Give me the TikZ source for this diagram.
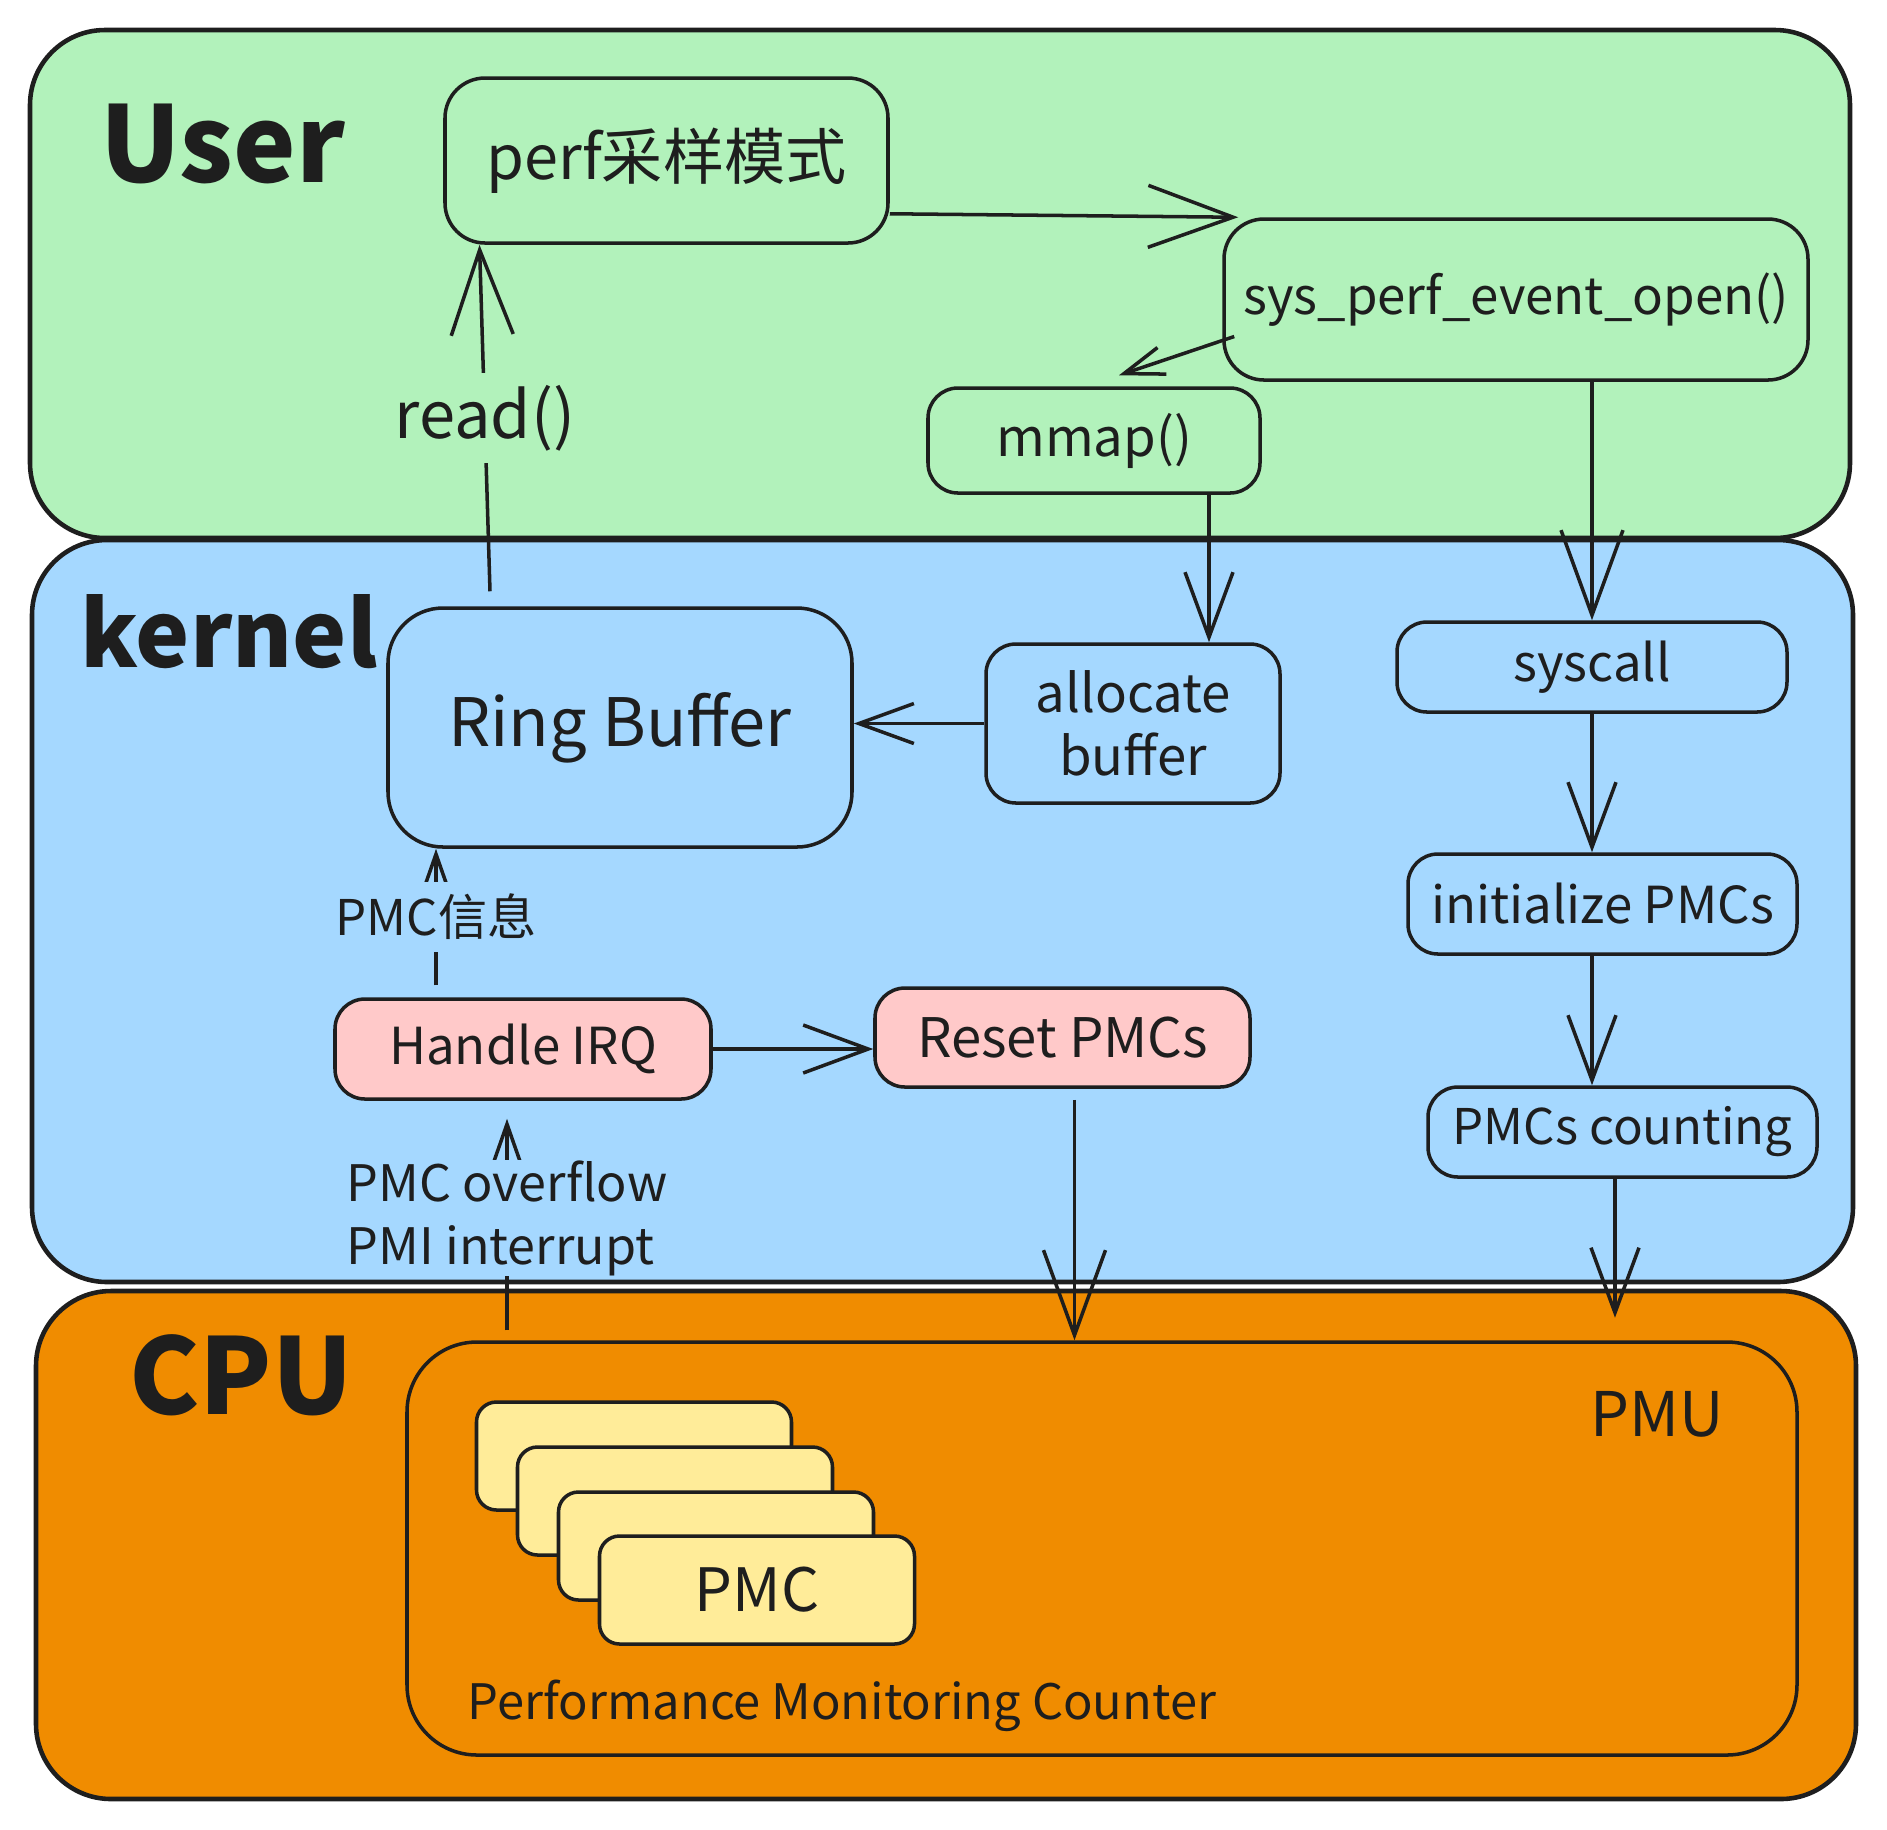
\documentclass[tikz,border=0pt]{standalone}
\usepackage{fontspec}
\setmainfont{Noto Sans CJK SC}
\usepackage{tikz}
\usetikzlibrary{arrows.meta,positioning,calc}
\usepackage{xcolor}
\definecolor{ink}{HTML}{1E1E1E}
\definecolor{usergreen}{HTML}{B2F2BB}
\definecolor{kernelblue}{HTML}{A5D8FF}
\definecolor{cpuorange}{HTML}{F08C00}
\definecolor{irqpink}{HTML}{FFC9C9}
\definecolor{pmcyellow}{HTML}{FFEC99}

\begin{document}
\begin{tikzpicture}[>=Straight Barb,line width=1pt,color=ink,on grid,font=\fontsize{14.5pt}{17.5pt}\selectfont]
          \useasboundingbox (0,0) rectangle (18.87,-18.29);
          \tikzset{layer/.style={draw,line width=1.3pt,rounded corners=0.75cm,inner sep=0pt}}
          \tikzset{block/.style={draw,rounded corners=0.3cm,align=center,inner sep=0pt}}
          \tikzset{card/.style={draw,fill=pmcyellow,rounded corners=0.2cm,minimum width=3.15cm,minimum height=1.08cm,inner sep=0pt}}
          \tikzset{title/.style={font=\fontsize{30pt}{34pt}\selectfont\bfseries}}
          \node[layer,fill=usergreen,minimum width=18.2cm,minimum height=5.08cm]   (user)   at (9.40,-2.84)  {};
          \node[layer,fill=kernelblue,minimum width=18.21cm,minimum height=7.42cm] (kernel) at (9.425,-9.11) {};
          \node[layer,fill=cpuorange,minimum width=18.2cm,minimum height=5.08cm]   (cpu)    at (9.46,-15.45) {};
          \node[title] (userlbl)   at (2.23,-1.44)  {User};
          \node[title,font=\fontsize{26pt}{30pt}\selectfont\bfseries] (kernellbl) at (2.29,-6.32)  {kernel};
          \node[title] (cpulbl)    at (2.41,-13.75) {CPU};
          \node[block,rounded corners=0.4cm,minimum width=4.43cm,minimum height=1.65cm,font=\fontsize{17.4pt}{21pt}\selectfont] (perf) at (6.665,-1.605) {perf采样模式};
          \node[block,rounded corners=0.4cm,minimum width=5.84cm,minimum height=1.61cm] (open)    at (15.16,-2.995)  {sys\_perf\_event\_open()};
          \node[block,font=\fontsize{15pt}{18pt}\selectfont,minimum width=3.32cm,minimum height=1.05cm] (mmap) at (10.94,-4.405) {mmap()};
          \node[block,rounded corners=0.55cm,minimum width=4.64cm,minimum height=2.39cm,font=\fontsize{19pt}{23pt}\selectfont] (ring) at (6.20,-7.275) {Ring Buffer};
          \node[block,font=\fontsize{15pt}{18pt}\selectfont,minimum width=2.94cm,minimum height=1.59cm] (alloc) at (11.33,-7.235) {allocate\\buffer};
          \node[block,minimum width=3.90cm,minimum height=0.90cm]                       (syscall) at (15.92,-6.67)   {syscall};
          \node[block,minimum width=3.89cm,minimum height=1.00cm]                       (init)    at (16.025,-9.04)  {initialize PMCs};
          \node[block,font=\fontsize{14pt}{17pt}\selectfont,minimum width=3.89cm,minimum height=0.90cm] (count) at (16.225,-11.32) {PMCs counting};
          \node[block,fill=irqpink,minimum width=3.76cm,minimum height=1.00cm]          (irq)     at (5.23,-10.49)   {Handle IRQ};
          \node[block,fill=irqpink,font=\fontsize{15.5pt}{18pt}\selectfont,minimum width=3.75cm,minimum height=0.99cm] (reset) at (10.625,-10.375) {Reset PMCs};
          \node[draw,rounded corners=0.7cm,minimum width=13.9cm,minimum height=4.13cm]  (pmu)     at (11.02,-15.485) {};
          \node[font=\fontsize{17.5pt}{21pt}\selectfont] (pmulbl) at (16.57,-14.14) {PMU};
          \node[card] (pmc1) at (6.34,-14.56) {};
          \node[card] (pmc2) [below right=0.45cm and 0.41cm of pmc1] {};
          \node[card] (pmc3) [below right=0.45cm and 0.41cm of pmc2] {};
          \node[card,font=\fontsize{17pt}{20pt}\selectfont] (pmc4) [below right=0.44cm and 0.41cm of pmc3] {PMC};
          \node[font=\fontsize{13.9pt}{17pt}\selectfont] (pmclbl) at (8.42,-17.06) {Performance Monitoring Counter};
          \tikzset{bigline/.style={-{Straight Barb[length=0.85cm,width=0.62cm]}}}
          \tikzset{midline/.style={-{Straight Barb[length=0.65cm,width=0.48cm]}}}
          \tikzset{smallline/.style={-{Straight Barb[length=0.4cm,width=0.28cm]}}}
          \coordinate (allocin) at ([xshift=0.76cm]alloc.north);
          \coordinate (readout) at ([xshift=-1.3cm,yshift=0.15cm]ring.north);
          \coordinate (readin)  at ([xshift=-1.87cm]perf.south);
          \coordinate (infoout) at ([xshift=-0.87cm,yshift=0.12cm]irq.north);
          \coordinate (ovfin)   at ([xshift=-0.16cm,yshift=-0.18cm]irq.south);
          \coordinate (ovfout)  at ($(pmu.north -| ovfin)+(0,0.1)$);
          \coordinate (resetout) at ([xshift=0.12cm,yshift=-0.11cm]reset.south);
          \coordinate (cntout)  at ([xshift=-0.075cm]count.south);
          \coordinate (cntin)   at ($(cpu.north -| cntout)+(0,-0.29)$);
          \path ([yshift=0.31cm]perf.south east) edge [bigline] ([xshift=0.16cm]open.north west)
          ([xshift=0.12cm,yshift=-0.37cm]open.west) edge [smallline] ([xshift=0.25cm,yshift=0.11cm]mmap.north)
          (open.south -| syscall.north) edge [bigline] (syscall.north)
          (mmap.south -| allocin) edge [midline] (allocin)
          (alloc.west) edge [-{Straight Barb[length=0.55cm,width=0.4cm]}] (ring.east |- alloc.west)
          (readout) edge [bigline] node[fill=usergreen,font=\fontsize{18.5pt}{22pt}\selectfont] {read()} (readin)
          (infoout) edge [smallline] node[fill=kernelblue,font=\fontsize{14pt}{17pt}\selectfont] {PMC信息} (ring.south -| infoout)
          (irq.east) edge [midline] (reset.west |- irq.east)
          (ovfout) edge [smallline] node[pos=0.53,fill=kernelblue,align=left,inner sep=0pt,font=\fontsize{14.3pt}{18pt}\selectfont] {PMC overflow\\PMI interrupt} (ovfin)
          (resetout) edge [bigline] (pmu.north -| resetout)
          (syscall.south) edge [midline] (init.north -| syscall.south)
          (init.south -| syscall.south) edge [midline] (count.north -| syscall.south)
          (cntout) edge [midline] (cntin);
        \end{tikzpicture}
\end{document}
